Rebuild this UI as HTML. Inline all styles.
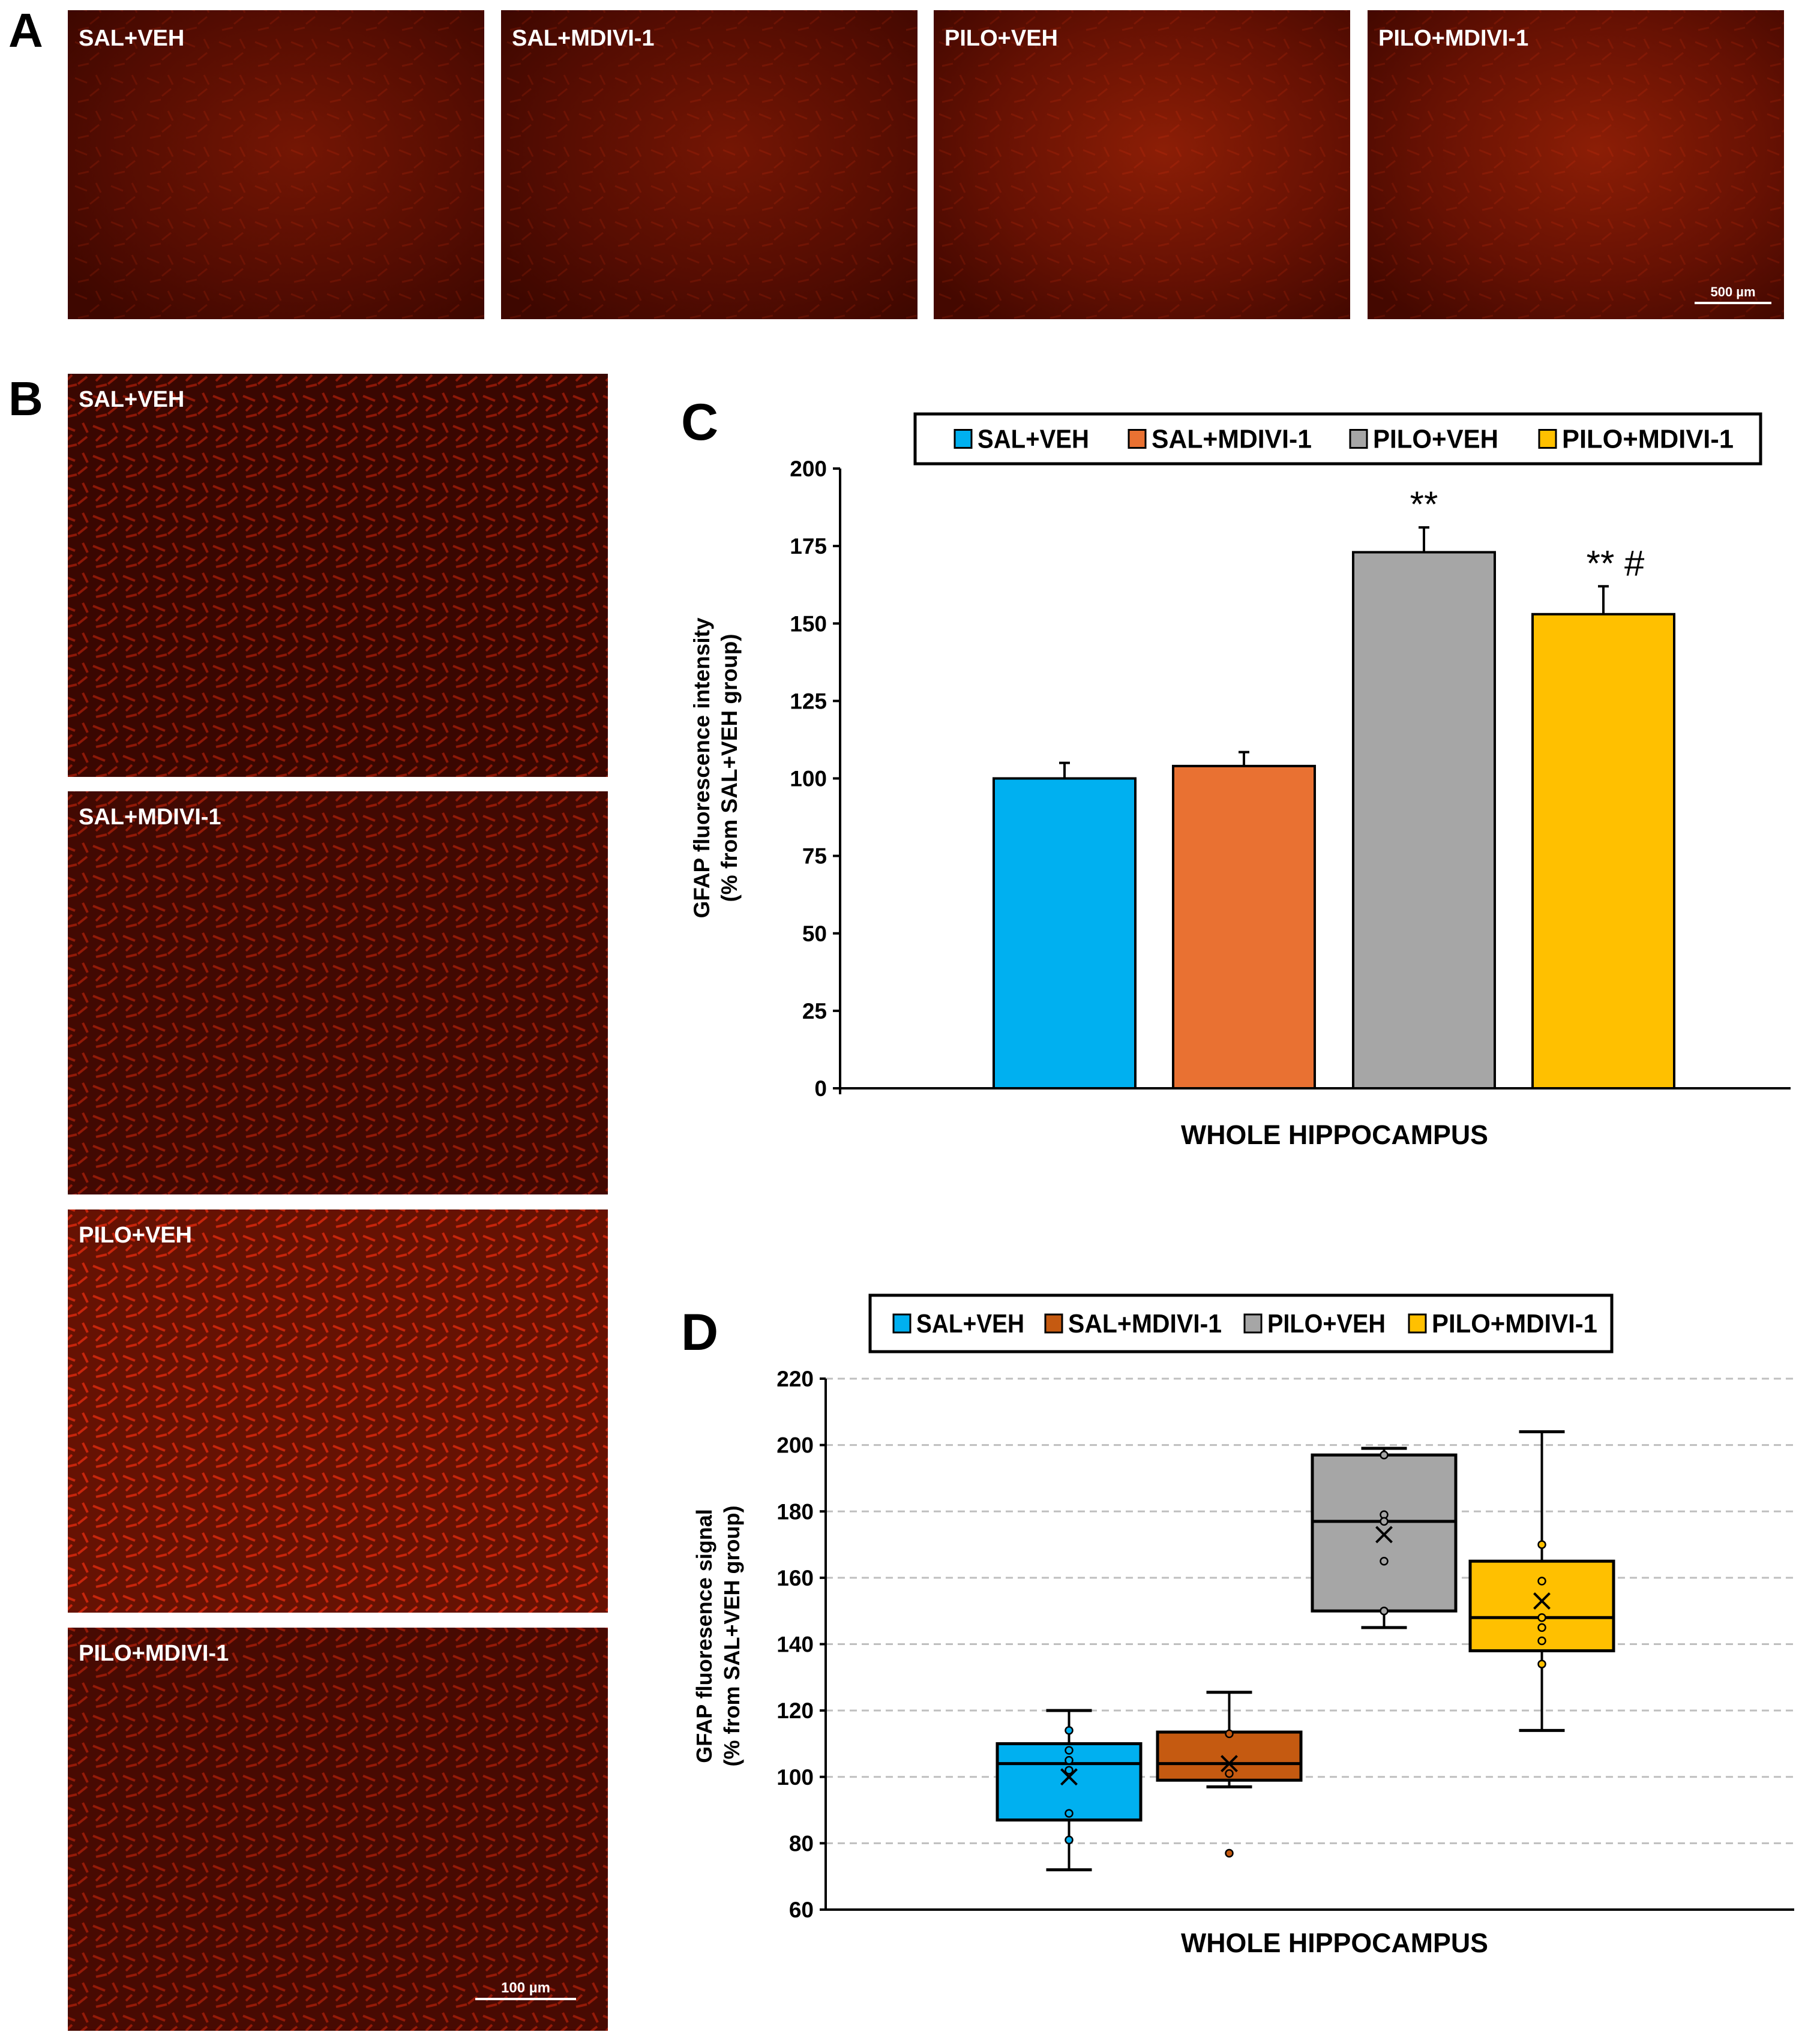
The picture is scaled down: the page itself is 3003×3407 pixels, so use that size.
<!DOCTYPE html>
<html><head><meta charset="utf-8"><style>
html,body{margin:0;padding:0;background:#fff;}
svg{display:block;}
text{font-family:"Liberation Sans",sans-serif;}
.cn{font-family:"Liberation Sans Narrow","Liberation Sans",sans-serif;font-weight:bold;}
</style></head><body>
<svg id="fig" width="3003" height="3407" viewBox="0 0 3003 3407" xmlns="http://www.w3.org/2000/svg">
<defs>
<radialGradient id="gA" cx="55%" cy="45%" r="70%"><stop offset="0" stop-color="#741604"/><stop offset="0.6" stop-color="#560d02"/><stop offset="1" stop-color="#3e0700"/></radialGradient>
<radialGradient id="gAb" cx="55%" cy="45%" r="70%"><stop offset="0" stop-color="#8c1e06"/><stop offset="0.6" stop-color="#661103"/><stop offset="1" stop-color="#440800"/></radialGradient>
<pattern id="tex" width="60" height="60" patternUnits="userSpaceOnUse"><path d="M5 10 l20 8 M30 40 l15 -12 M10 50 l18 -4 M40 5 l8 16" stroke="#ff3a10" stroke-width="3" opacity="0.45"/></pattern>
<pattern id="texB" width="50" height="50" patternUnits="userSpaceOnUse"><path d="M5 10 l20 8 M30 40 l15 -12 M10 45 l18 -4 M38 5 l8 16 M20 25 l-10 10" stroke="#ff3010" stroke-width="4" opacity="0.7"/></pattern>
</defs>
<g id="panelA"></g>
<g id="panelB"></g>
<g id="panelC"></g>
<g id="panelD"></g>
</svg>
<script>
// ---- Panel C data ----
const groups = ["SAL+VEH","SAL+MDIVI-1","PILO+VEH","PILO+MDIVI-1"];
const barMeans = [100,104,173,153];
const barErrors = [5,4.5,8,9];
const barSig = ["","","**","**  #"];
const cTicks = [0,25,50,75,100,125,150,175,200];
const cColors = ["#00b0f0","#e97132","#a6a6a6","#ffc000"];
// ---- Panel D data ----
const dWhiskLow = [72,97,145,114];
const dQ1 = [87,99,150,138];
const dMedian = [104,104,177,148];
const dQ3 = [110,113.5,197,165];
const dWhiskHigh = [120,125.5,199,204];
const dMean = [100,104,173,153];
const dPoints = [[114,108,105,102,89,81],[113,101,77],[197,179,177,165,150],[170,159,148,145,141,134]];
const dTicks = [60,80,100,120,140,160,180,200,220];
const dColors = ["#00b0f0","#c55a11","#a6a6a6","#ffc000"];

const NS="http://www.w3.org/2000/svg";
function el(parent,tag,attrs,txt){const e=document.createElementNS(NS,tag);for(const k in attrs)e.setAttribute(k,attrs[k]);if(txt!==undefined)e.textContent=txt;parent.appendChild(e);return e;}

// ---- Panel A ----
const A=document.getElementById('panelA');
let t=el(A,'text',{x:14,y:78,'font-size':80,'font-weight':'bold'},'A');

const aX=[113,835,1556,2279];
groups.forEach((g,i)=>{
  const r=el(A,'rect',{x:aX[i],y:17,width:694,height:515,fill:i>=2?'url(#gAb)':'url(#gA)'});
  
  el(A,'rect',{x:aX[i],y:17,width:694,height:515,fill:'url(#tex)',opacity:0.3});
  const l=el(A,'text',{x:aX[i]+18,y:76,'font-size':38,'font-weight':'bold',fill:'#fff'},g);
  
});
el(A,'line',{x1:2824,y1:505,x2:2952,y2:505,stroke:'#fff','stroke-width':4});
t=el(A,'text',{x:2888,y:494,'font-size':22,'font-weight':'bold',fill:'#fff','text-anchor':'middle'},'500 µm');


// ---- Panel B ----
const B=document.getElementById('panelB');
t=el(B,'text',{x:14,y:692,'font-size':80,'font-weight':'bold'},'B');

const bY=[623,1319,2016,2713];
const bFill=['#3a0701','#420902','#661203','#480a02'];
groups.forEach((g,i)=>{
  const r=el(B,'rect',{x:113,y:bY[i],width:900,height:672,fill:bFill[i]});
  
  el(B,'rect',{x:113,y:bY[i],width:900,height:672,fill:'url(#texB)',opacity:i==2?0.9:0.6});
  const l=el(B,'text',{x:131,y:bY[i]+55,'font-size':38,'font-weight':'bold',fill:'#fff'},g);
  
});
el(B,'line',{x1:792,y1:3332,x2:960,y2:3332,stroke:'#fff','stroke-width':4});
t=el(B,'text',{x:876,y:3321,'font-size':24,'font-weight':'bold',fill:'#fff','text-anchor':'middle'},'100 µm');


// ---- legend helper ----
function legend(P,x,y,w,h,colors,xs,ws,fs){
  const box=el(P,'rect',{x:x,y:y,width:w,height:h,fill:'#fff',stroke:'#000','stroke-width':5});
  
  groups.forEach((g,i)=>{
    const sw=el(P,'rect',{x:xs[i],y:y+h/2-15,width:28,height:30,fill:colors[i],stroke:'#000','stroke-width':3});
    
    const tx=el(P,'text',{x:xs[i]+38,y:y+h/2+15,'font-size':fs,class:'cn',textLength:ws[i],lengthAdjust:'spacingAndGlyphs'},g);
    
  });
}

// ---- Panel C ----
const C=document.getElementById('panelC');
t=el(C,'text',{x:1135,y:733,'font-size':86,'font-weight':'bold'},'C');

legend(C,1525,690,1409,83,cColors,[1591,1881,2250,2565],[186,267,209,286],44);
const cx0=1400,cxR=2984,cy0=1814,cy1=781;
const yC=v=>cy0-(v-0)/(200-0)*(cy0-cy1);
const cBarX=[1656,1955,2255,2554], cBarW=236;
cTicks.forEach(v=>{
  el(C,'line',{x1:cx0-12,y1:yC(v),x2:cx0,y2:yC(v),stroke:'#000','stroke-width':4});
  const l=el(C,'text',{x:cx0-22,y:yC(v)+13,'font-size':37,'text-anchor':'end',class:'cn'},v);
  
});
groups.forEach((g,i)=>{
  const xm=cBarX[i]+cBarW/2;
  const e1=el(C,'line',{x1:xm,y1:yC(barMeans[i]),x2:xm,y2:yC(barMeans[i]+barErrors[i]),stroke:'#000','stroke-width':4});
  
  el(C,'line',{x1:xm-9,y1:yC(barMeans[i]+barErrors[i]),x2:xm+9,y2:yC(barMeans[i]+barErrors[i]),stroke:'#000','stroke-width':4});
  const b=el(C,'rect',{x:cBarX[i],y:yC(barMeans[i]),width:cBarW,height:yC(0)-yC(barMeans[i]),fill:cColors[i],stroke:'#000','stroke-width':4});
  
  if(barSig[i]){
    const s=el(C,'text',{x:xm+(i==3?20:0),y:yC(barMeans[i]+barErrors[i])-18,'font-size':60,'text-anchor':'middle','xml:space':'preserve'},barSig[i]);
    
  }
});
el(C,'line',{x1:cx0,y1:cy1,x2:cx0,y2:cy0+10,stroke:'#000','stroke-width':4});
el(C,'line',{x1:cx0,y1:cy0,x2:cxR,y2:cy0,stroke:'#000','stroke-width':4});
t=el(C,'text',{x:1968,y:1907,'font-size':45,class:'cn',textLength:512,lengthAdjust:'spacingAndGlyphs'},'WHOLE HIPPOCAMPUS');

t=el(C,'text',{transform:'translate(1182,1280) rotate(-90)','font-size':37,'font-weight':'bold','text-anchor':'middle'});

el(t,'tspan',{x:0,y:0},'GFAP fluorescence intensity');
el(t,'tspan',{x:0,y:46},'(% from SAL+VEH group)');

// ---- Panel D ----
const D=document.getElementById('panelD');
t=el(D,'text',{x:1135,y:2250,'font-size':86,'font-weight':'bold'},'D');

legend(D,1450,2159,1236,94,dColors,[1489,1742,2074,2348],[180,256,197,276],44);
const dx0=1376,dxR=2990,dy0=3183,dy1=2298;
const yD=v=>dy0-(v-60)/(220-60)*(dy0-dy1);
const dBoxX=[1662,1929,2187,2450], dBoxW=239;
dTicks.forEach(v=>{
  if(v>60){const gl=el(D,'line',{x1:dx0,y1:yD(v),x2:dxR,y2:yD(v),stroke:'#bfbfbf','stroke-width':3,'stroke-dasharray':'12 8'});
  }
  el(D,'line',{x1:dx0-10,y1:yD(v),x2:dx0,y2:yD(v),stroke:'#000','stroke-width':4});
  const l=el(D,'text',{x:dx0-20,y:yD(v)+13,'font-size':37,'text-anchor':'end',class:'cn'},v);
  
});
groups.forEach((g,i)=>{
  const xm=dBoxX[i]+dBoxW/2;
  const w=el(D,'line',{x1:xm,y1:yD(dWhiskLow[i]),x2:xm,y2:yD(dWhiskHigh[i]),stroke:'#000','stroke-width':4});
  
  [dWhiskLow[i],dWhiskHigh[i]].forEach(v=>el(D,'line',{x1:xm-38,y1:yD(v),x2:xm+38,y2:yD(v),stroke:'#000','stroke-width':5}));
  const b=el(D,'rect',{x:dBoxX[i],y:yD(dQ3[i]),width:dBoxW,height:yD(dQ1[i])-yD(dQ3[i]),fill:dColors[i],stroke:'#000','stroke-width':5});
  
  const m=el(D,'line',{x1:dBoxX[i],y1:yD(dMedian[i]),x2:dBoxX[i]+dBoxW,y2:yD(dMedian[i]),stroke:'#000','stroke-width':5});
  
  dPoints[i].forEach(v=>{
    const c=el(D,'circle',{cx:xm,cy:yD(v),r:6,fill:dColors[i],stroke:'#000','stroke-width':2.5});
    
  });
  const my=yD(dMean[i]);
  const mk=el(D,'path',{d:`M${xm-13} ${my-13} L${xm+13} ${my+13} M${xm+13} ${my-13} L${xm-13} ${my+13}`,stroke:'#000','stroke-width':4,fill:'none'});
  
});
el(D,'line',{x1:dx0,y1:dy1,x2:dx0,y2:dy0,stroke:'#000','stroke-width':4});
el(D,'line',{x1:dx0,y1:dy0,x2:dxR,y2:dy0,stroke:'#000','stroke-width':4});
t=el(D,'text',{x:1968,y:3254,'font-size':45,class:'cn',textLength:512,lengthAdjust:'spacingAndGlyphs'},'WHOLE HIPPOCAMPUS');

t=el(D,'text',{transform:'translate(1186,2727) rotate(-90)','font-size':36,'font-weight':'bold','text-anchor':'middle'});

el(t,'tspan',{x:0,y:0},'GFAP fluoresence signal');
el(t,'tspan',{x:0,y:46},'(% from SAL+VEH group)');
</script>
</body></html>
